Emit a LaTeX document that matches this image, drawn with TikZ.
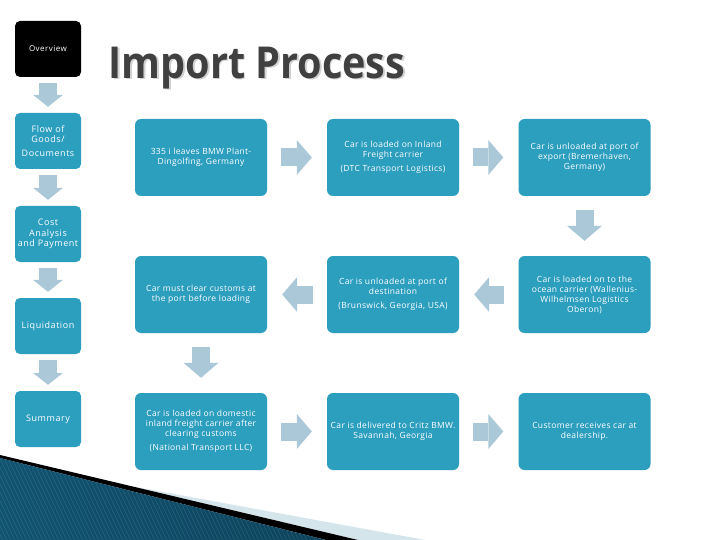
\documentclass[tikz,border=0pt]{standalone}
\usepackage{fontspec}
\setmainfont{Open Sans}
\newfontfamily\boxfont[LetterSpace=4]{Open Sans}
\newfontfamily\sidefont[LetterSpace=6]{Open Sans}
\usetikzlibrary{arrows.meta}
\definecolor{boxblue}{RGB}{44,158,190}
\definecolor{arrowblue}{RGB}{170,200,216}
\definecolor{titlegray}{RGB}{64,64,64}
\definecolor{swoopdark}{RGB}{16,84,114}
\definecolor{swooplight}{RGB}{92,186,222}
\definecolor{bandgray}{RGB}{212,229,236}

\begin{document}
\begin{tikzpicture}[x=1pt,y=-1pt,
    stepbox/.style={fill=boxblue,rounded corners=6pt,minimum width=132pt,minimum height=77pt,
      inner sep=2pt,align=center,text=white,font=\boxfont\fontsize{8.5}{10}\selectfont},
    sidebox/.style={fill=boxblue,rounded corners=5pt,minimum width=66pt,minimum height=56pt,
      inner sep=1pt,align=center,text=white,font=\sidefont\fontsize{9}{10.5}\selectfont},
    flowarr/.style={draw=arrowblue,line width=18pt,
      -{Triangle[width=35pt,length=15pt,line width=0pt]},shorten <=14pt,shorten >=15pt},
    sidearr/.style={draw=arrowblue,line width=18pt,
      -{Triangle[width=30pt,length=12pt,line width=0pt]},shorten <=6pt,shorten >=6pt}]
          \useasboundingbox (0,0) rectangle (720,540);
          \fill[white] (0,0) rectangle (720,540);

          \node[font=\bfseries\fontsize{44}{44}\selectfont,text=black!18,xscale=.9] (shadow) at (258.5,69.5) {Import Process};
          \node[font=\bfseries\fontsize{44}{44}\selectfont,text=titlegray,xscale=.9] (title) at (257,68) {Import Process};

          \node[sidebox,fill=black,font=\sidefont\fontsize{8}{9}\selectfont] (overview) at (48,49) {Overview};
          \node[sidebox] (flow) at (48,141) {Flow of\\Goods/\\[3pt]Documents};
          \node[sidebox] (cost) at (48,234) {Cost\\Analysis\\and Payment};
          \node[sidebox] (liquid) at (48,326) {Liquidation};
          \node[sidebox] (summary) at (48,419) {Summary};

          \node[stepbox] (leave) at (201,157.5) {335 i leaves BMW Plant-\\Dingolfing, Germany};
          \node[stepbox] (inland) at (393,157.5) {Car is loaded on Inland\\Freight carrier\\[4pt](DTC Transport Logistics)};
          \node[stepbox] (export) at (584.5,157.5) {Car is unloaded at port of\\export (Bremerhaven,\\Germany)};
          \node[stepbox] (customs) at (201,294.5) {Car must clear customs at\\the port before loading};
          \node[stepbox] (destination) at (393,294.5) {Car is unloaded at port of\\destination\\[4pt](Brunswick, Georgia, USA)};
          \node[stepbox] (ocean) at (584.5,294.5) {Car is loaded on to the\\ocean carrier (Wallenius-\\Wilhelmsen Logistics\\Oberon)};
          \node[stepbox] (domestic) at (201,431.5) {Car is loaded on domestic\\inland freight carrier after\\clearing customs\\[4pt](National Transport LLC)};
          \node[stepbox] (critz) at (393,431.5) {Car is delivered to Critz BMW.\\Savannah, Georgia};
          \node[stepbox] (dealer) at (584.5,431.5) {Customer receives car at\\dealership.};

          \draw[sidearr] (overview) -- (flow);
          \draw[sidearr] (flow) -- (cost);
          \draw[sidearr] (cost) -- (liquid);
          \draw[sidearr] (liquid) -- (summary);

          \draw[flowarr] (leave) -- (inland);
          \draw[flowarr] (inland) -- (export);
          \draw[flowarr] (export) -- (ocean);
          \draw[flowarr] (ocean) -- (destination);
          \draw[flowarr] (destination) -- (customs);
          \draw[flowarr] (customs) -- (domestic);
          \draw[flowarr] (domestic) -- (critz);
          \draw[flowarr] (critz) -- (dealer);

          \fill[bandgray] (132,486.3) -- (425,540) -- (358,540) -- cycle;
          \fill[black] (0,455) -- (358,540) -- (326,540) -- (0,458) -- cycle;
          \shade[left color=swoopdark,middle color=swooplight,right color=swoopdark!80!black]
            (0,458) -- (326,540) -- (0,540) -- cycle;
          \begin{scope}
            \clip (0,458) -- (326,540) -- (0,540) -- cycle;
            \foreach \i in {-60,-56,...,330}
              \draw[white,opacity=.12,line width=.5pt] (\i,450) -- (\i+45,545);
          \end{scope}
        \end{tikzpicture}
\end{document}
